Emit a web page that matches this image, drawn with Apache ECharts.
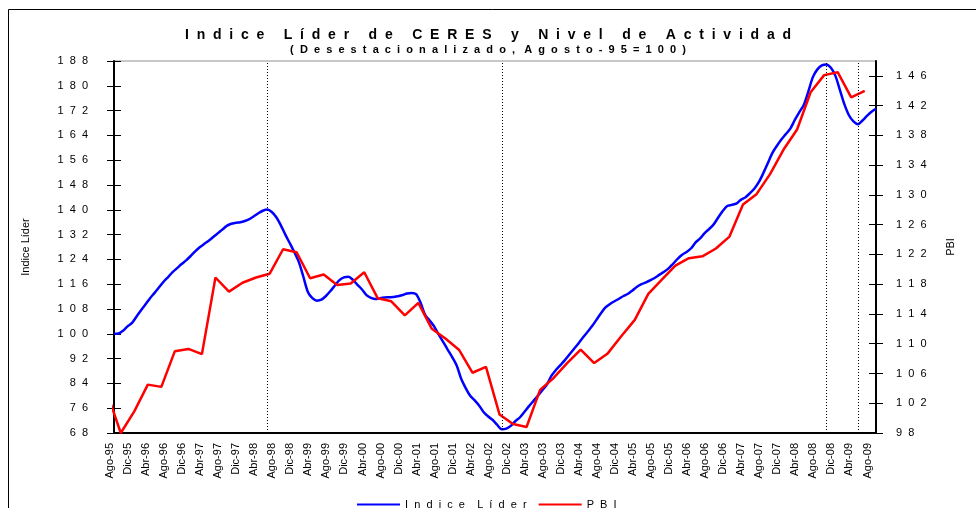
<!DOCTYPE html>
<html>
<head>
<meta charset="utf-8">
<title>Indice Líder de CERES y Nivel de Actividad</title>
<script src="https://cdn.jsdelivr.net/npm/echarts@6/dist/echarts.min.js"></script>
<style>
  html, body { margin: 0; padding: 0; background: #fff; }
  #chart { width: 976px; height: 508px; }
</style>
</head>
<body>
<div id="chart"></div>
<script>
// meses Ago-95 .. Sep-09
const monthNames = ['Ene', 'Feb', 'Mar', 'Abr', 'May', 'Jun', 'Jul', 'Ago', 'Sep', 'Oct', 'Nov', 'Dic']
const categories = []
for (let i = 0; i < 170; i++) {
  const m = (7 + i) % 12
  const y = 1995 + Math.floor((7 + i) / 12)
  categories.push(monthNames[m] + '-' + String(y).slice(2))
}

// Indice Lider CERES (mensual, eje izquierdo)
const indiceLider = [
  100.0, 100.1, 101.0, 102.4, 103.5, 105.6, 107.6, 109.5, 111.5, 113.2,
  115.0, 116.8, 118.3, 119.9, 121.2, 122.5, 123.7, 125.1, 126.6, 127.9,
  129.0, 130.0, 131.2, 132.4, 133.6, 134.8, 135.5, 135.8, 136.0, 136.4,
  137.0, 137.9, 138.9, 139.7, 140.1, 139.3, 137.6, 135.0, 132.0, 129.2,
  126.3, 123.1, 118.4, 113.5, 111.5, 110.7, 111.0, 112.2, 113.8, 115.6,
  117.3, 118.2, 118.4, 117.4, 115.8, 114.3, 112.5, 111.6, 111.2, 111.5,
  111.7, 111.8, 111.9, 112.1, 112.5, 113.0, 113.2, 112.8, 110.0, 106.1,
  104.3, 102.4, 99.8, 97.4, 94.9, 92.5, 89.8, 85.5, 82.5, 80.0,
  78.5, 76.8, 74.7, 73.3, 72.2, 70.6, 69.2, 69.4, 70.3, 71.8,
  73.0, 74.8, 76.6, 78.3, 80.0, 81.8, 83.6, 86.4, 88.3, 89.9,
  91.5, 93.3, 95.1, 96.9, 98.8, 100.6, 102.4, 104.5, 106.6, 108.5,
  109.6, 110.5, 111.3, 112.2, 112.9, 114.0, 115.2, 116.0, 116.6, 117.3,
  118.1, 119.1, 120.0, 121.1, 122.6, 124.2, 125.5, 126.4, 127.6, 129.5,
  130.8, 132.5, 133.8, 135.3, 137.5, 139.6, 141.2, 141.6, 142.0, 143.2,
  144.0, 145.3, 146.8, 148.9, 151.8, 155.0, 158.3, 160.6, 162.7, 164.4,
  166.2, 169.0, 171.5, 173.9, 178.2, 182.8, 185.3, 186.6, 186.9, 185.8,
  183.2, 178.6, 174.0, 170.5, 168.5, 167.6, 168.8, 170.3, 171.6, 172.6
]

// PBI trimestral (II-95 .. II-09, eje derecho)
const pbi = [
  103.3, 98.0, 100.9, 104.5, 104.2, 109.0, 109.3, 108.6, 118.9, 117.0,
  118.2, 118.9, 119.4, 122.7, 122.3, 118.8, 119.3, 117.9, 118.1, 119.6,
  116.1, 115.7, 113.8, 115.5, 112.0, 110.7, 109.2, 106.1, 106.9, 100.5,
  99.2, 98.8, 103.8, 105.4, 107.4, 109.2, 107.4, 108.7, 111.0, 113.2,
  116.7, 118.6, 120.5, 121.5, 121.75, 122.8, 124.4, 128.7, 130.1, 132.8,
  136.1, 138.8, 143.8, 146.1, 146.5, 143.1, 144.0
]
const pbiStart = -1.5 // posicion (en meses) del primer trimestre

const leftTicks = [68, 76, 84, 92, 100, 108, 116, 124, 132, 140, 148, 156, 164, 172, 180, 188]
const rightTicks = [98, 102, 106, 110, 114, 118, 122, 126, 130, 134, 138, 142, 146]
const turningPoints = ['Jun-98', 'Oct-02', 'Oct-08', 'May-09']

// el grafico original muestra el texto con letras espaciadas
function spaced (s, gap, wordGap) {
  return s.split(' ').map(w => w.split('').join(gap)).join(wordGap)
}

const font = '"Liberation Sans", Arial, sans-serif'
const chart = echarts.init(document.getElementById('chart'))

const yBase = {
  type: 'value',
  splitLine: { show: false }
}

chart.setOption({
  animation: false,
  textStyle: { fontFamily: font, color: '#000' },
  title: {
    text: spaced('Indice Líder de CERES y Nivel de Actividad', '  ', '     '),
    subtext: spaced('(Desestacionalizado, Agosto-95=100)', '  ', '   '),
    left: 'center',
    top: 23,
    itemGap: 2,
    textStyle: { fontFamily: font, fontSize: 14, fontWeight: 'bold', color: '#000' },
    subtextStyle: { fontFamily: font, fontSize: 11, fontWeight: 'bold', color: '#000' }
  },
  graphic: [{
    type: 'rect',
    silent: true,
    z: -10,
    shape: { x: 8.5, y: 9.5, width: 1100, height: 1100 },
    style: { fill: 'transparent', stroke: '#000', lineWidth: 1 }
  }],
  grid: {
    left: 114,
    right: 100,
    top: 61,
    bottom: 75,
    show: true,
    borderColor: '#909090',
    borderWidth: 1
  },
  legend: {
    data: ['Indice Líder', 'PBI'],
    left: 352,
    top: 494,
    icon: 'rect',
    itemWidth: 43,
    itemHeight: 2,
    itemGap: 12,
    textStyle: { fontFamily: font, fontSize: 11, color: '#000' },
    formatter: name => spaced(name, '  ', '    ')
  },
  xAxis: [{
    type: 'category',
    data: categories,
    boundaryGap: false,
    axisLine: { lineStyle: { color: '#000', width: 2 } },
    axisTick: { show: false },
    axisLabel: {
      interval: 3,
      rotate: 90,
      fontSize: 11,
      color: '#000',
      margin: 10,
      verticalAlign: 'bottom',
      lineHeight: 8
    },
    splitLine: { show: false }
  }, {
    type: 'value',
    min: 0,
    max: 169,
    show: false
  }],
  yAxis: [Object.assign({}, yBase, {
    position: 'left',
    min: 68,
    max: 188,
    interval: 8,
    name: 'Indice Líder',
    nameLocation: 'middle',
    nameGap: 83,
    nameRotate: 90,
    nameTextStyle: { fontFamily: font, fontSize: 11, color: '#000' },
    axisLine: { show: true, lineStyle: { color: '#000', width: 2 } },
    axisTick: { show: true, length: 7, customValues: leftTicks, lineStyle: { color: '#000' } },
    axisLabel: { fontSize: 11, color: '#000', margin: 26, customValues: leftTicks, formatter: v => spaced(String(v), '  ', '') }
  }), Object.assign({}, yBase, {
    position: 'right',
    min: 98,
    max: 148,
    interval: 4,
    name: 'PBI',
    nameLocation: 'middle',
    nameGap: 69,
    nameRotate: 90,
    nameTextStyle: { fontFamily: font, fontSize: 11, color: '#000' },
    axisLine: { show: true, lineStyle: { color: '#000', width: 2 } },
    axisTick: { show: true, length: 7, customValues: rightTicks, lineStyle: { color: '#000' } },
    axisLabel: { fontSize: 11, color: '#000', margin: 20, customValues: rightTicks, formatter: v => spaced(String(v), '  ', '') }
  }), Object.assign({}, yBase, {
    // marcas hacia adentro (cruzan el eje)
    position: 'left',
    min: 68,
    max: 188,
    interval: 8,
    axisLine: { show: false },
    axisTick: { show: true, inside: true, length: 7, customValues: leftTicks, lineStyle: { color: '#000' } },
    axisLabel: { show: false }
  }), Object.assign({}, yBase, {
    position: 'right',
    min: 98,
    max: 148,
    interval: 4,
    axisLine: { show: false },
    axisTick: { show: true, inside: true, length: 7, customValues: rightTicks, lineStyle: { color: '#000' } },
    axisLabel: { show: false }
  })],
  series: [{
    name: 'Indice Líder',
    type: 'line',
    xAxisIndex: 0,
    yAxisIndex: 0,
    data: indiceLider,
    smooth: 0.3,
    symbol: 'none',
    lineStyle: { color: '#0000ff', width: 2.5 },
    itemStyle: { color: '#0000ff' },
    markLine: {
      silent: true,
      symbol: 'none',
      label: { show: false },
      lineStyle: { color: '#000', type: [1, 2], width: 1 },
      data: turningPoints.map(c => ({ xAxis: c }))
    }
  }, {
    name: 'PBI',
    type: 'line',
    xAxisIndex: 1,
    yAxisIndex: 1,
    data: pbi.map((v, q) => [pbiStart + 3 * q, v]),
    symbol: 'none',
    lineStyle: { color: '#ff0000', width: 2.5 },
    itemStyle: { color: '#ff0000' }
  }]
})
</script>
</body>
</html>
